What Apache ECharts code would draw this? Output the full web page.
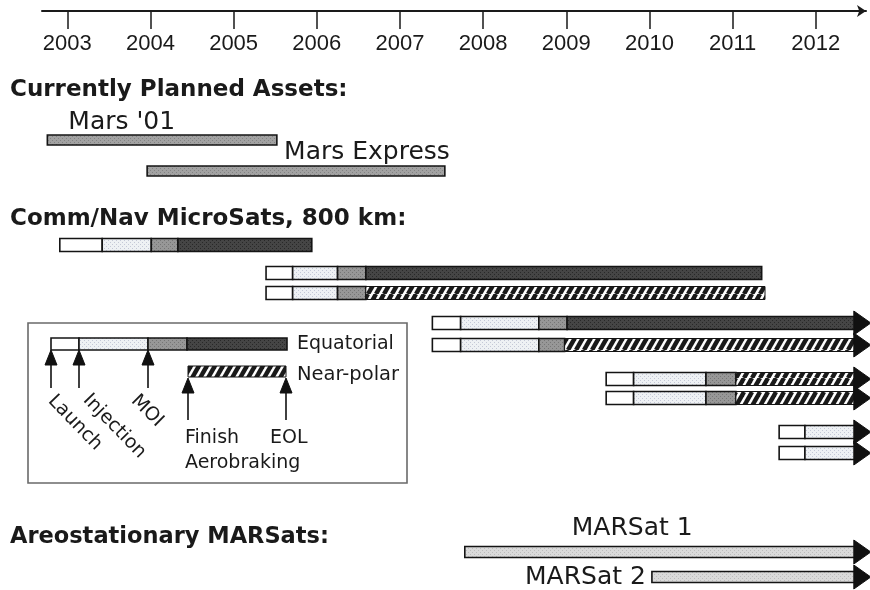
<!DOCTYPE html>
<html><head><meta charset="utf-8">
<script src="https://cdn.jsdelivr.net/npm/echarts@6/dist/echarts.min.js"></script>
<style>html,body{margin:0;padding:0;background:#fff}#c{width:870px;height:590px}</style>
</head><body><div id="c"></div>
<script>
// ---------------- DATA ----------------
const tickYears = [2003, 2004, 2005, 2006, 2007, 2008, 2009, 2010, 2011, 2012];

const sectionTitles = ['Currently Planned Assets:', 'Comm/Nav MicroSats, 800 km:', 'Areostationary MARSats:'];

const rowNames = ["Mars '01", 'Mars Express',
  'MicroSat A', 'MicroSat B1', 'MicroSat B2', 'MicroSat C1', 'MicroSat C2',
  'MicroSat D1', 'MicroSat D2', 'MicroSat E1', 'MicroSat E2',
  'MARSat 1', 'MARSat 2'];
const barLabels = ["Mars '01", 'Mars Express', '', '', '', '', '', '', '', '', '', 'MARSat 1', 'MARSat 2'];
const rowGroup = [0, 0, 1, 1, 1, 1, 1, 1, 1, 1, 1, 2, 2];
// lane (vertical position unit) of each row
const rowLanes = [14.0, 17.1, 24.5, 27.3, 29.3, 32.3, 34.5, 37.9, 39.8, 43.2, 45.3, 55.2, 57.7];
// phase boundaries (years) of each row
const rowBreaks = [
  [2002.76, 2005.52],
  [2003.96, 2007.54],
  [2002.91, 2003.42, 2004.01, 2004.33, 2005.94],
  [2005.39, 2005.71, 2006.25, 2006.59, 2011.35],
  [2005.39, 2005.71, 2006.25, 2006.59, 2011.39],
  [2007.39, 2007.73, 2008.67, 2009.01, 2012.47],
  [2007.39, 2007.73, 2008.67, 2008.98, 2012.47],
  [2009.48, 2009.81, 2010.68, 2011.04, 2012.47],
  [2009.48, 2009.81, 2010.68, 2011.04, 2012.47],
  [2011.56, 2011.87, 2012.47],
  [2011.56, 2011.87, 2012.47],
  [2007.78, 2012.47],
  [2010.03, 2012.47]
];
// phase of each segment
const rowPhases = [
  ['asset'], ['asset'],
  ['launch', 'cruise', 'aerobraking', 'equatorial'],
  ['launch', 'cruise', 'aerobraking', 'equatorial'],
  ['launch', 'cruise', 'aerobraking', 'nearpolar'],
  ['launch', 'cruise', 'aerobraking', 'equatorial'],
  ['launch', 'cruise', 'aerobraking', 'nearpolar'],
  ['launch', 'cruise', 'aerobraking', 'nearpolar'],
  ['launch', 'cruise', 'aerobraking', 'nearpolar'],
  ['launch', 'cruise'],
  ['launch', 'cruise'],
  ['marsat'], ['marsat']
];
// rows continuing beyond the time axis
const rowContinues = [false, false, false, false, false, true, true, true, true, true, true, true, true];

// ---------------- STYLES ----------------
const FONT = '"DejaVu Sans", "Liberation Sans", sans-serif';
const TXT = '#1a1a1a';
function pattern(bg, draw, w, h) {
  const c = document.createElement('canvas'); c.width = w; c.height = h;
  const g = c.getContext('2d'); g.fillStyle = bg; g.fillRect(0, 0, w, h);
  draw(g);
  return { image: c, repeat: 'repeat' };
}
function dots(col) {
  return function (g) { g.fillStyle = col; g.fillRect(0, 0, 1, 1); g.fillRect(2, 2, 1, 1); };
}
const phaseList = ['launch', 'cruise', 'aerobraking', 'equatorial', 'nearpolar', 'asset', 'marsat'];
const phaseFill = {
  launch: '#ffffff',
  cruise: pattern('#eef1f4', dots('#c4c8d6'), 4, 4),
  aerobraking: pattern('#979797', dots('#767676'), 4, 4),
  equatorial: pattern('#454545', dots('#282828'), 4, 4),
  nearpolar: pattern('#ffffff', function (g) {
    g.strokeStyle = '#1a1a1a'; g.lineWidth = 4.4;
    for (let k = -1; k <= 1; k++) { g.beginPath(); g.moveTo(k * 8, 14); g.lineTo(k * 8 + 8, 0); g.stroke(); }
  }, 8, 14),
  asset: pattern('#a2a2a2', dots('#838383'), 4, 4),
  marsat: pattern('#dadada', dots('#bcbcbc'), 4, 4)
};
const groupBarH = [10, 13, 11];

// ---------------- BUILD SERIES DATA ----------------
const segData = [];
rowBreaks.forEach(function (b, r) {
  for (let i = 0; i < b.length - 1; i++) {
    segData.push([b[i], b[i + 1], rowLanes[r], phaseList.indexOf(rowPhases[r][i]), rowGroup[r]]);
  }
});
const arrowData = [];
rowBreaks.forEach(function (b, r) { if (rowContinues[r]) arrowData.push([b[b.length - 1], rowLanes[r], rowGroup[r]]); });
const labelData = [];
barLabels.forEach(function (t, r) { if (t) labelData.push([rowBreaks[r][0], rowBreaks[r][rowBreaks[r].length - 1], rowLanes[r], r]); });
const labelPlace = {
  0: { at: 0, dx: 21, dy: -18, align: 'left' },
  1: { at: 1, dx: 5, dy: -19, align: 'right' },
  11: { at: 0, dx: 107, dy: -24, align: 'left' },
  12: { at: 0, dx: -6, dy: 0, align: 'right' }
};

function renderSeg(params, api) {
  const s = api.coord([api.value(0), api.value(2)]);
  const e = api.coord([api.value(1), api.value(2)]);
  const ph = phaseList[api.value(3)];
  const h = groupBarH[api.value(4)];
  return {
    type: 'rect',
    shape: { x: s[0], y: s[1] - h / 2, width: e[0] - s[0], height: h },
    style: { fill: phaseFill[ph], stroke: '#141414', lineWidth: ph === 'nearpolar' ? 1 : 1.6 }
  };
}
function renderArrow(params, api) {
  const p = api.coord([api.value(0), api.value(1)]);
  const hh = 12;
  return {
    type: 'polygon',
    shape: { points: [[p[0] - 1, p[1] - hh], [p[0] + 16, p[1]], [p[0] - 1, p[1] + hh]] },
    style: { fill: '#111', stroke: '#111', lineWidth: 1 }
  };
}
function renderLabel(params, api) {
  const r = api.value(3);
  const pl = labelPlace[r];
  const p = api.coord([api.value(pl.at), api.value(2)]);
  return {
    type: 'text',
    x: p[0] + pl.dx, y: p[1] + pl.dy,
    style: { text: barLabels[r], font: '25px ' + FONT, fill: TXT, textAlign: pl.align, textVerticalAlign: 'middle' }
  };
}

// ---------------- LEGEND (schematic key) ----------------
function keyArrow(x, yTop, yBot) {
  return [
    { type: 'line', shape: { x1: x, y1: yTop + 6, x2: x, y2: yBot }, style: { stroke: '#111', lineWidth: 1.6 } },
    { type: 'polygon', shape: { points: [[x - 6, yTop + 15], [x, yTop], [x + 6, yTop + 15]] }, style: { fill: '#111', stroke: '#111', lineWidth: 1 } }
  ];
}
const keyEls = [
  { type: 'rect', shape: { x: 28, y: 323, width: 379, height: 160 }, style: { fill: 'none', stroke: '#6a6a6a', lineWidth: 1.6 } },
  { type: 'rect', shape: { x: 51, y: 338, width: 28, height: 12 }, style: { fill: phaseFill.launch, stroke: '#141414', lineWidth: 1.6 } },
  { type: 'rect', shape: { x: 79, y: 338, width: 69, height: 12 }, style: { fill: phaseFill.cruise, stroke: '#141414', lineWidth: 1.6 } },
  { type: 'rect', shape: { x: 148, y: 338, width: 39, height: 12 }, style: { fill: phaseFill.aerobraking, stroke: '#141414', lineWidth: 1.6 } },
  { type: 'rect', shape: { x: 187, y: 338, width: 100, height: 12 }, style: { fill: phaseFill.equatorial, stroke: '#141414', lineWidth: 1.6 } },
  { type: 'rect', shape: { x: 188, y: 366, width: 98, height: 11 }, style: { fill: phaseFill.nearpolar, stroke: '#141414', lineWidth: 1 } },
  { type: 'text', x: 297, y: 344, style: { text: 'Equatorial', font: '19px ' + FONT, fill: TXT, textVerticalAlign: 'middle' } },
  { type: 'text', x: 297, y: 375, style: { text: 'Near-polar', font: '19.5px ' + FONT, fill: TXT, textVerticalAlign: 'middle' } },
  { type: 'text', x: 51, y: 398, rotation: -0.8, style: { text: 'Launch', font: '19px ' + FONT, fill: TXT, textVerticalAlign: 'middle' } },
  { type: 'text', x: 86, y: 397, rotation: -0.8, style: { text: 'Injection', font: '19px ' + FONT, fill: TXT, textVerticalAlign: 'middle' } },
  { type: 'text', x: 134, y: 398, rotation: -0.78, style: { text: 'MOI', font: '19px ' + FONT, fill: TXT, textVerticalAlign: 'middle' } },
  { type: 'text', x: 185, y: 438, style: { text: 'Finish', font: '19px ' + FONT, fill: TXT, textVerticalAlign: 'middle' } },
  { type: 'text', x: 185, y: 463, style: { text: 'Aerobraking', font: '19px ' + FONT, fill: TXT, textVerticalAlign: 'middle' } },
  { type: 'text', x: 270, y: 438, style: { text: 'EOL', font: '19px ' + FONT, fill: TXT, textVerticalAlign: 'middle' } }
].concat(keyArrow(51, 350, 388), keyArrow(79, 350, 388), keyArrow(148, 350, 388), keyArrow(188, 378, 420), keyArrow(286, 378, 420));

const titleEls = [
  { type: 'text', x: 10, y: 90, style: { text: sectionTitles[0], font: 'bold 23px ' + FONT, fill: TXT, textVerticalAlign: 'middle' } },
  { type: 'text', x: 10, y: 219, style: { text: sectionTitles[1], font: 'bold 23px ' + FONT, fill: TXT, textVerticalAlign: 'middle' } },
  { type: 'text', x: 10, y: 537, style: { text: sectionTitles[2], font: 'bold 22.5px ' + FONT, fill: TXT, textVerticalAlign: 'middle' } }
];

// ---------------- CHART ----------------
const chart = echarts.init(document.getElementById('c'), null, { renderer: 'canvas' });
chart.setOption({
  animation: false,
  backgroundColor: '#ffffff',
  grid: { left: 42, right: 4, top: 11, bottom: 0 },
  xAxis: {
    type: 'value', position: 'top', min: 2002.6958, max: 2012.6044,
    axisLine: { show: true, symbol: ['none', 'arrow'], symbolSize: [9, 9], lineStyle: { color: '#1a1a1a', width: 2 } },
    axisTick: { show: true, inside: true, length: 18, customValues: tickYears, lineStyle: { color: '#1a1a1a', width: 1.5 } },
    axisLabel: { show: true, inside: true, margin: 22, customValues: tickYears, formatter: function (v) { return String(v); }, color: TXT, fontSize: 22, fontFamily: '"Liberation Sans", Arial, sans-serif' },
    splitLine: { show: false }
  },
  yAxis: { type: 'value', inverse: true, min: 1.1, max: 59, show: false },
  series: [
    { type: 'custom', renderItem: renderSeg, data: segData, clip: false, silent: true },
    { type: 'custom', renderItem: renderArrow, data: arrowData, clip: false, silent: true },
    { type: 'custom', renderItem: renderLabel, data: labelData, clip: false, silent: true }
  ],
  graphic: titleEls.concat(keyEls)
});
</script>
</body></html>
